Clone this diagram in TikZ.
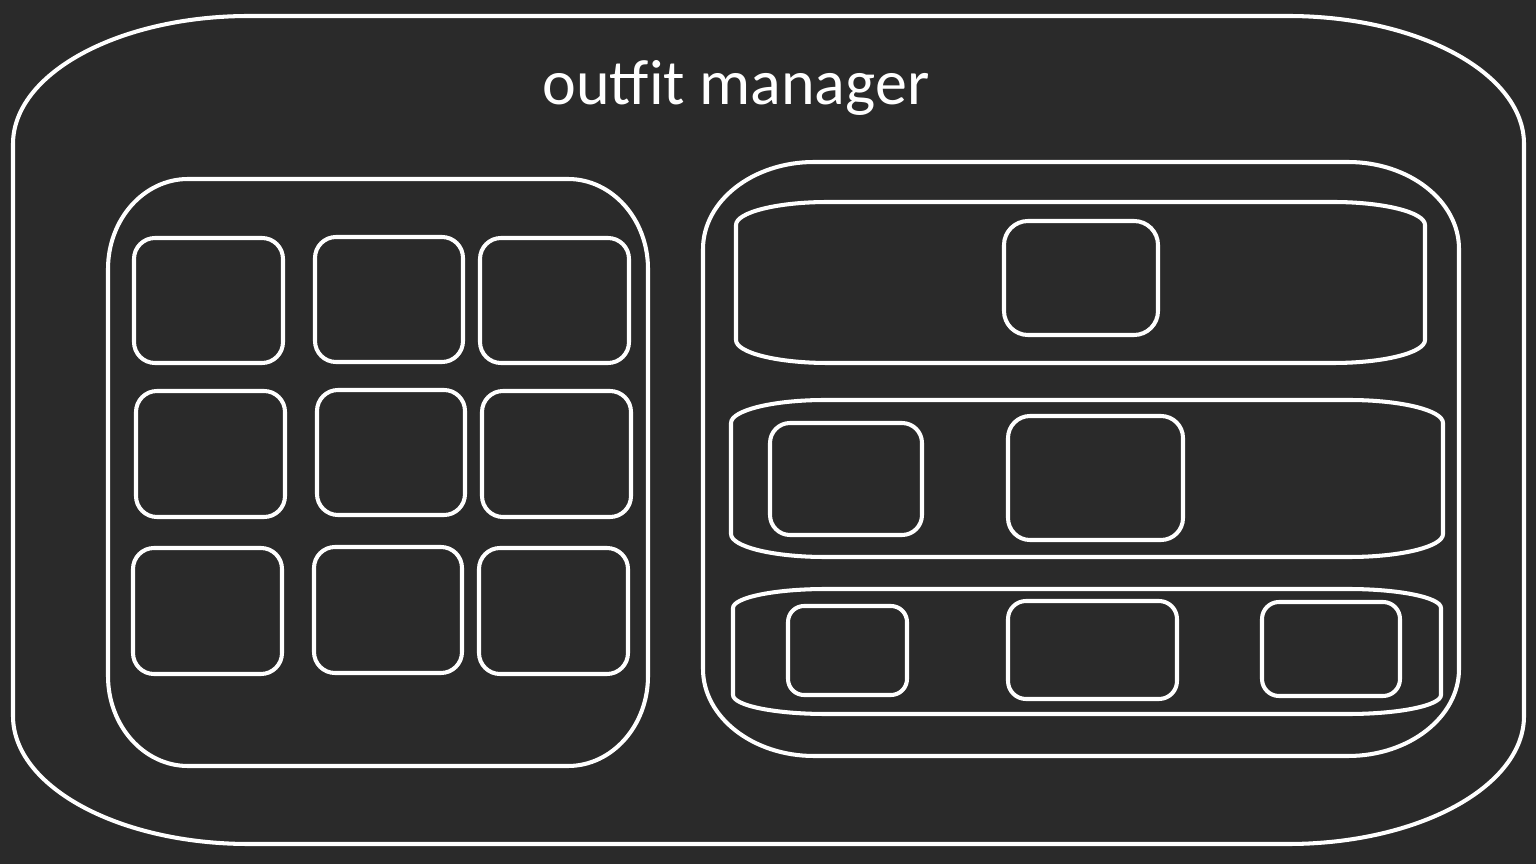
\documentclass[tikz,border=0pt]{standalone}
\usepackage{fontspec}
\setmainfont{Carlito}
\definecolor{bgdark}{RGB}{42,42,42}
\tikzset{
  outline/.style={
    draw=white,
    line width=1.15pt,
    line join=round
  },
  frame/.style={outline},
  panel/.style={outline},
  band/.style={outline},
  tile/.style={outline},
  title/.style={text=white, font=\fontsize{18.2}{22}\selectfont, inner sep=0pt}
}
% box with elliptical corners: x1, y1, x2, y2, rx, ry (pixel units)
\newcommand{\roundbox}[7][outline]{
  \draw[#1] ({#2+#6},{#3}) -- ({#4-#6},{#3})
    .. controls ({#4-0.448*#6},{#3}) and ({#4},{#3+0.448*#7}) .. ({#4},{#3+#7})
    -- ({#4},{#5-#7})
    .. controls ({#4},{#5-0.448*#7}) and ({#4-0.448*#6},{#5}) .. ({#4-#6},{#5})
    -- ({#2+#6},{#5})
    .. controls ({#2+0.448*#6},{#5}) and ({#2},{#5-0.448*#7}) .. ({#2},{#5-#7})
    -- ({#2},{#3+#7})
    .. controls ({#2},{#3+0.448*#7}) and ({#2+0.448*#6},{#3}) .. ({#2+#6},{#3})
    -- cycle;
}

\begin{document}
\begin{tikzpicture}[x=0.01cm, y=-0.01cm]
  \fill[bgdark] (0,0) rectangle (1536,864);
  \useasboundingbox (0,0) rectangle (1536,864);
  % outer frame
  \roundbox[frame]{13}{16}{1524}{844}{236}{128}
  \node[title, anchor=base] (manager) at (736,105) {outfit manager};
  % left panel: 3x3 grid
  \roundbox[panel]{108}{179}{648}{766}{80}{90}
  \foreach \xa/\ya/\xb/\yb in {
      134/238/283/363, 315/237/463/362, 480/238/629/363,
      136/391/285/517, 317/390/465/515, 482/391/631/517,
      133/548/282/674, 314/547/462/673, 479/548/628/674}{
    \roundbox[tile]{\xa}{\ya}{\xb}{\yb}{21}{21}
  }
  % right panel with three bands
  \roundbox[panel]{703}{162}{1459}{756}{111}{87}
  \roundbox[band]{736}{202}{1425}{363}{92}{23}
  \roundbox[band]{731}{400}{1443}{557}{94}{23}
  \roundbox[band]{733}{589}{1441}{714}{93}{19}
  % band contents
  \roundbox[tile]{1004}{221}{1158}{335}{24}{24}
  \roundbox[tile]{770}{423}{922}{535}{20}{20}
  \roundbox[tile]{1008}{416}{1183}{540}{22}{22}
  \roundbox[tile]{788}{606}{907}{695}{16}{16}
  \roundbox[tile]{1008}{601}{1177}{699}{18}{18}
  \roundbox[tile]{1262}{602}{1400}{696}{17}{17}
\end{tikzpicture}
\end{document}
